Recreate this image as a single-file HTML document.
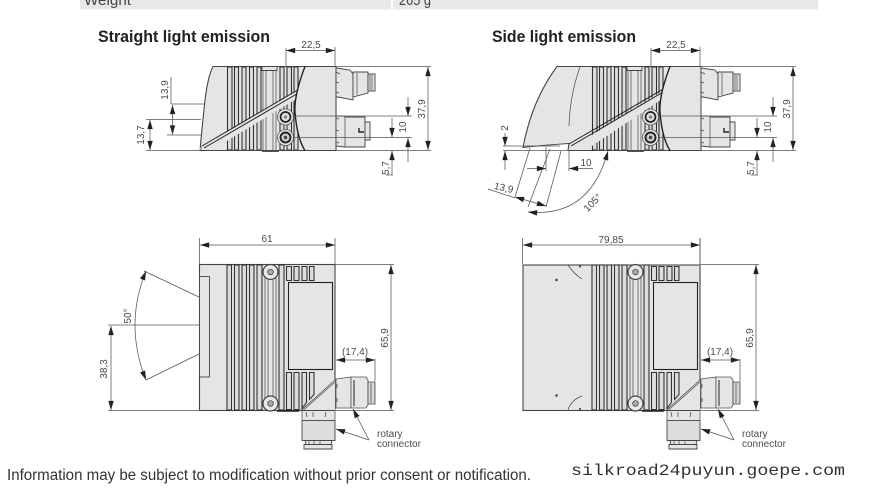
<!DOCTYPE html>
<html><head><meta charset="utf-8"><style>
html,body{margin:0;padding:0;background:#fff;width:878px;height:488px;overflow:hidden}
svg{display:block}
text{font-family:"Liberation Sans",sans-serif;fill:#4a4a4a;font-size:10px}
.d line,.d path{stroke:#555;stroke-width:.75;fill:none}
.o{stroke:#444;stroke-width:.9;fill:#e4e6e6}
.t{stroke:#444;stroke-width:.7;fill:none}
.s{stroke:#333;stroke-width:1.1;fill:#dcdede}
.k{stroke:#222;stroke-width:1.4;fill:none}
</style></head><body>
<svg width="878" height="488" viewBox="0 0 878 488" xmlns="http://www.w3.org/2000/svg">
<defs>
<marker id="a" viewBox="0 0 10 6" refX="10" refY="3" markerWidth="11" markerHeight="5.5" markerUnits="userSpaceOnUse" orient="auto-start-reverse"><path d="M0 0L10 3L0 6z" fill="#222"/></marker>
<g id="slats">
  <rect x="227.500" y="67" width="4.500" height="83" class="s"/>
  <rect x="234.500" y="67" width="4" height="83" class="s"/>
  <rect x="242" y="67" width="4" height="83" class="s"/>
  <rect x="249.500" y="67" width="4" height="83" class="s"/>
  <rect x="257" y="67" width="4" height="83" class="s"/>
  <path d="M263 71V150M266 71V150M273 71V150M276 71V150" class="t"/>
  <path d="M262 66.500h15v4h-15z" class="o" fill="#ccc"/>
  <path d="M262 150.500h17v1.500h-17z" fill="#555"/>
  <rect x="280" y="67" width="4" height="83" class="s"/>
  <rect x="287" y="67" width="4.500" height="83" class="s"/>
  <rect x="294" y="67" width="4" height="83" class="s"/>
</g>
<g id="sideR">
  <path d="M305 66.500Q294 95 295 112Q297 138 305 150.500H336V66.500Z" fill="#e4e6e6"/>
  <path d="M298 66.500H336V150.500H300" class="t" style="stroke-width:1"/>
  <path d="M305 66.500Q294 95 295 112Q297 138 305 150.500" class="k"/>
  <circle cx="285.500" cy="117" r="8" fill="#e4e6e6" stroke="#555" stroke-width=".8"/><circle cx="285.500" cy="117" r="5" fill="#ddd" stroke="#222" stroke-width="1.700"/><circle cx="285.500" cy="117" r="1.500" fill="#777"/>
  <circle cx="285.500" cy="137.500" r="8" fill="#e4e6e6" stroke="#555" stroke-width=".8"/><circle cx="285.500" cy="137.500" r="5" fill="#ccc" stroke="#222" stroke-width="1.900"/><circle cx="285.500" cy="137.500" r="1.700" fill="#444"/>
  <path d="M336 68L350 70L353 74V100L338 97H336Z" class="o"/>
  <path d="M353 72H368V93L353 97Z" class="o"/>
  <path d="M368 74H375V91H368Z" class="o"/>
  <path d="M357 73V95M370 75V90M372 75V90" class="t"/>
  <path d="M336 116H345V117H365V147H345L336 146Z" class="o"/>
  <path d="M345 117V147" class="t"/>
  <path d="M365 122h5v18h-5z" class="o"/>
  <path d="M359 128V132H364" class="k"/>
  <path d="M336 72l4 2M336 82l3 1M336 92l3 1M336 118l3 1M336 130l3 1M336 142l3 1" class="t"/>
</g>
<g id="dimsR" class="d">
  <line x1="286" y1="48" x2="286" y2="66"/><line x1="335" y1="47" x2="335" y2="66"/>
  <line x1="286" y1="50.500" x2="335" y2="50.500" marker-start="url(#a)" marker-end="url(#a)"/>
  <line x1="335" y1="66.500" x2="431" y2="66.500"/><line x1="336" y1="150.500" x2="431" y2="150.500"/>
  <line x1="428" y1="67" x2="428" y2="150" marker-start="url(#a)" marker-end="url(#a)"/>
  <line x1="293" y1="116" x2="412" y2="116"/><line x1="293" y1="137.500" x2="412" y2="137.500"/>
  <line x1="408" y1="97" x2="408" y2="116" marker-end="url(#a)"/>
  <line x1="408" y1="162" x2="408" y2="138" marker-end="url(#a)"/>
  <line x1="392" y1="118" x2="392" y2="137" marker-end="url(#a)"/>
  <line x1="392" y1="175" x2="392" y2="151" marker-end="url(#a)"/>
  <line x1="386" y1="175" x2="393" y2="175"/>
</g>
<g id="topR">
  <rect x="227" y="265" width="4.500" height="145" class="s"/>
  <rect x="234.500" y="265" width="4.500" height="145" class="s"/>
  <rect x="242" y="265" width="4.500" height="145" class="s"/>
  <rect x="249.500" y="265" width="4.500" height="145" class="s"/>
  <rect x="257" y="265" width="5" height="145" class="s"/>
  <path d="M265 275V400M268 280V396M273 280V396M276 275V400" class="t"/>
  <rect x="279" y="265" width="5" height="145" class="s"/>
  <path d="M286.500 266.500h5v14h-5zM294 266.500h5v14h-5zM302 266.500h5v14h-5zM309.500 266.500h4.500v14h-4.500z" class="s"/>
  <path d="M286.500 372.500h5v37h-5zM294 372.500h5v37h-5zM302 372.500h4.500v30l-4.500 6zM309.500 372.500h4.500v22l-4.500 5z" class="s"/>
  <rect x="288.500" y="282.500" width="44" height="87" class="o" style="stroke:#222;stroke-width:1.100"/>
  <path d="M301.500 410L335 380V410Z" fill="#e4e6e6" stroke="none"/>
  <path d="M301.500 410L335 380M303.500 410L335 382" class="t"/>
  <circle cx="270.500" cy="272" r="7.500" fill="#e8e8e8" stroke="#444" stroke-width="1.200"/><circle cx="270.500" cy="272" r="2.800" fill="#aaa" stroke="#333" stroke-width=".7"/>
  <circle cx="270.500" cy="403.500" r="7.500" fill="#e8e8e8" stroke="#444" stroke-width="1.200"/><circle cx="270.500" cy="403.500" r="2.800" fill="#aaa" stroke="#333" stroke-width=".7"/>
  <path d="M277 410h22v1.800h-22z" fill="#222"/>
  <path d="M336 379L351 377V408H336Z" fill="#e4e6e6" stroke="#555" stroke-width=".8"/>
  <path d="M351 377H366L368 380V405L366 408H351Z" fill="#e4e6e6" stroke="#555" stroke-width=".8"/>
  <path d="M354 380V406" class="k" style="stroke-width:1"/>
  <path d="M368 382h7v22h-7z" fill="#d8d8d8" stroke="#444" stroke-width=".8"/>
  <path d="M371 383V403" class="t"/>
  <path d="M337 384v4M337 398v4" class="t"/>
  <path d="M302 411H335L335 421H302Z" fill="#e4e6e6" stroke="none"/>
  <path d="M306 412l1 5M313 412v5M326 412l-1 5" class="t"/>
  <rect x="302" y="420.500" width="33" height="20" fill="#dcdede" stroke="#444" stroke-width=".9"/>
  <path d="M302 411V420M335 411V420" class="t"/>
  <path d="M305 440.500h27l-1 4h-25z" class="o"/><path d="M304 444.500h28v4.500h-28z" class="o"/>
  <path d="M309 441v4M314 441v4M320 441v4" class="t"/>
</g>
<g id="topDims" class="d">
  <line x1="335" y1="238" x2="335" y2="264"/>
  <line x1="335" y1="264.500" x2="394" y2="264.500"/><line x1="336" y1="410.500" x2="394" y2="410.500"/>
  <line x1="391" y1="265" x2="391" y2="410" marker-start="url(#a)" marker-end="url(#a)"/>
  <line x1="336" y1="360" x2="375" y2="360" marker-start="url(#a)" marker-end="url(#a)"/>
  <line x1="375" y1="359" x2="375" y2="381"/>
  <line x1="369" y1="440" x2="353" y2="409" marker-end="url(#a)"/>
  <line x1="369" y1="440" x2="336" y2="429" marker-end="url(#a)"/>
</g>
<filter id="b" x="0" y="0" width="100%" height="100%"><feGaussianBlur stdDeviation=".35"/></filter>
</defs>

<rect x="80" y="0" width="311" height="9.500" fill="#e6e8e9"/>
<rect x="393" y="0" width="425" height="9.500" fill="#e6e8e9"/>
<text x="84" y="5" textLength="47" lengthAdjust="spacingAndGlyphs" style="font-size:15px;fill:#444">Weight</text>
<text x="399" y="5" textLength="32" lengthAdjust="spacingAndGlyphs" style="font-size:15px;fill:#444">265 g</text>

<text x="98" y="42" textLength="172" lengthAdjust="spacingAndGlyphs" style="font-size:16.500px;font-weight:bold;fill:#222">Straight light emission</text>
<text x="492" y="42" textLength="144" lengthAdjust="spacingAndGlyphs" style="font-size:16.500px;font-weight:bold;fill:#222">Side light emission</text>

<g filter="url(#b)">
<!-- Straight side view -->
<path d="M213 66.500H336V150.500H200Q202 128 205 100Q208 76 213 66.500Z" class="o" style="stroke-width:1.100"/>
<use href="#slats"/>
<path d="M196 150L306 86L306 93L212 150Z" fill="#e4e6e6"/>
<path d="M202 146L301 88M204 148L301 91.500" stroke="#222" stroke-width="1" fill="none"/>
<path d="M201 146V150" class="t"/>
<path d="M228 150.500H300" class="t" style="stroke-width:1.100"/>
<use href="#sideR"/>
<use href="#dimsR"/>
<g class="d">
  <line x1="171" y1="77" x2="171" y2="104"/><line x1="171" y1="104" x2="204" y2="104"/>
  <line x1="167" y1="135" x2="201" y2="135"/><line x1="146" y1="119.500" x2="201" y2="119.500"/>
  <line x1="146" y1="150.500" x2="200" y2="150.500"/>
  <line x1="172.500" y1="105" x2="172.500" y2="134.500" marker-start="url(#a)" marker-end="url(#a)"/>
  <line x1="150" y1="120" x2="150" y2="150" marker-start="url(#a)" marker-end="url(#a)"/>
</g>

<!-- Side view -->
<path d="M557 66.500H700V150.500H568L569 143.500Q545 145 523 147.500Q532 100 557 66.500Z" class="o" style="stroke-width:1.100"/>
<g transform="translate(365)"><use href="#slats"/></g>
<path d="M568 150L671 86L671 93L586 150Z" fill="#e4e6e6"/>
<path d="M569 144L665 88M571 146L665 91" stroke="#222" stroke-width="1" fill="none"/>
<path d="M593 150.500H665" class="t" style="stroke-width:1.100"/>
<path d="M580 67Q570 95 569 126" class="t"/>
<use href="#sideR" transform="translate(365)"/>
<use href="#dimsR" transform="translate(365)"/>
<g class="d">
  <line x1="503" y1="146" x2="560" y2="146"/><line x1="503" y1="150.500" x2="568" y2="150.500"/>
  <line x1="505" y1="133" x2="505" y2="146" marker-end="url(#a)"/>
  <line x1="505" y1="170" x2="505" y2="151" marker-end="url(#a)"/>
  <line x1="569" y1="150" x2="569" y2="171"/><line x1="546" y1="147" x2="546" y2="171"/>
  <line x1="530" y1="148" x2="515" y2="197"/><line x1="550" y1="149" x2="528" y2="207"/><line x1="561" y1="151" x2="546" y2="207"/>
  <line x1="527" y1="168.500" x2="546" y2="168.500" marker-end="url(#a)"/>
  <line x1="593" y1="168.500" x2="569" y2="168.500" marker-end="url(#a)"/>
  <line x1="488" y1="189" x2="515" y2="198"/>
  <line x1="515" y1="197" x2="546" y2="206" marker-start="url(#a)" marker-end="url(#a)"/>
  <path d="M528 212Q590 218 608 151" marker-start="url(#a)" marker-end="url(#a)"/>
</g>

<!-- Straight top view -->
<rect x="199.500" y="264.500" width="135.500" height="146" class="o" style="stroke-width:1.100"/>
<rect x="199.500" y="276.500" width="10" height="100.500" class="o"/>
<use href="#topR"/>
<use href="#topDims"/>
<g class="d">
  <line x1="199.500" y1="238" x2="199.500" y2="264"/>
  <line x1="200" y1="245" x2="335" y2="245" marker-start="url(#a)" marker-end="url(#a)"/>
  <line x1="144" y1="271" x2="199" y2="297"/><line x1="146" y1="380" x2="199" y2="354"/>
  <line x1="108" y1="325" x2="199" y2="325"/>
  <line x1="108" y1="410.500" x2="199" y2="410.500"/>
  <line x1="111" y1="326" x2="111" y2="410" marker-start="url(#a)" marker-end="url(#a)"/>
  <path d="M146 271Q124 325 146 380" marker-start="url(#a)" marker-end="url(#a)"/>
</g>

<!-- Side top view -->
<rect x="523" y="265" width="177" height="145.500" class="o" style="stroke-width:1.100"/>
<use href="#topR" transform="translate(365)"/>
<use href="#topDims" transform="translate(365)"/>
<g class="t">
  <path d="M568 265Q574 274 582 279M568 410Q571 400 582 396"/>
</g>
<circle cx="556.500" cy="280" r="1.200" fill="#333"/><circle cx="556.500" cy="395.500" r="1.200" fill="#333"/>
<circle cx="580" cy="266.500" r="1" fill="#333"/><circle cx="580" cy="409" r="1" fill="#333"/>
<g class="d">
  <line x1="522.500" y1="238" x2="522.500" y2="264"/><line x1="700" y1="238" x2="700" y2="264"/>
  <line x1="523" y1="245" x2="700" y2="245" marker-start="url(#a)" marker-end="url(#a)"/>
</g>

<!-- Dim labels -->
<text x="311" y="48" text-anchor="middle">22,5</text>
<text x="676" y="48" text-anchor="middle">22,5</text>
<text transform="translate(425 109) rotate(-90)" text-anchor="middle">37,9</text>
<text transform="translate(790 109) rotate(-90)" text-anchor="middle">37,9</text>
<text transform="translate(406 127) rotate(-90)" text-anchor="middle">10</text>
<text transform="translate(771 127) rotate(-90)" text-anchor="middle">10</text>
<text transform="translate(389 168) rotate(-90)" text-anchor="middle">5,7</text>
<text transform="translate(754 168) rotate(-90)" text-anchor="middle">5,7</text>
<text transform="translate(168 90) rotate(-90)" text-anchor="middle">13,9</text>
<text transform="translate(144 135) rotate(-90)" text-anchor="middle">13,7</text>
<text transform="translate(508 128) rotate(-90)" text-anchor="middle">2</text>
<text x="586" y="166" text-anchor="middle">10</text>
<text transform="translate(503 191) rotate(12)" text-anchor="middle">13,9</text>
<text transform="translate(595 205) rotate(-45)" text-anchor="middle">105°</text>
<text x="267" y="242" text-anchor="middle">61</text>
<text x="611" y="243" text-anchor="middle">79,85</text>
<text transform="translate(388 338) rotate(-90)" text-anchor="middle">65,9</text>
<text transform="translate(753 338) rotate(-90)" text-anchor="middle">65,9</text>
<text x="355" y="355" text-anchor="middle">(17,4)</text>
<text x="720" y="355" text-anchor="middle">(17,4)</text>
<text transform="translate(107 369) rotate(-90)" text-anchor="middle">38,3</text>
<text transform="translate(131 316) rotate(-90)" text-anchor="middle">50°</text>
<text x="377" y="437">rotary</text><text x="377" y="447">connector</text>
<text x="742" y="437">rotary</text><text x="742" y="447">connector</text>
</g>

<text x="7" y="480" textLength="524" lengthAdjust="spacingAndGlyphs" style="font-size:15.500px;fill:#333">Information may be subject to modification without prior consent or notification.</text>
<text x="571" y="475" textLength="274" lengthAdjust="spacingAndGlyphs" style="font-family:'Liberation Mono',monospace;font-size:16px;fill:#333">silkroad24puyun.goepe.com</text>
</svg>
</body></html>
